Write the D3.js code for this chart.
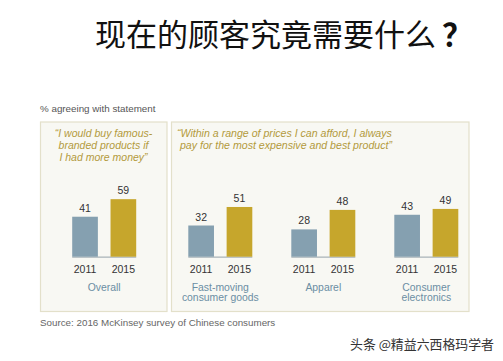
<!DOCTYPE html>
<html><head><meta charset="utf-8">
<script src="https://cdn.jsdelivr.net/npm/d3@7"></script>
<style>
html,body{margin:0;padding:0;background:#fff;}
svg{display:block;}
</style></head>
<body>
<script>
const titleMain = "现在的顾客究竟需要什么";
const titleMark = "？";
const subtitle = "% agreeing with statement";
const source = "Source: 2016 McKinsey survey of Chinese consumers";
const watermark = "头条 @精益六西格玛学者";
const years = ["2011", "2015"];
const leftQuote = ["\u201cI would buy famous-", "branded products if", "I had more money\u201d"];
const rightQuote = ["\u201cWithin a range of prices I can afford, I always", " pay for the most expensive and best product\u201d"];
const leftCategories = [["Overall"]];
const rightCategories = [["Fast-moving", "consumer goods"], ["Apparel"], ["Consumer", "electronics"]];
const values2011 = [41, 32, 28, 43];
const values2015 = [59, 51, 48, 49];

const W = 503, H = 361;
const svg = d3.select("body").append("svg").attr("width", W).attr("height", H);
const font = "'Liberation Sans', Arial, Helvetica, sans-serif";
const cjk = "'Noto Sans CJK SC', sans-serif";

const tt = svg.append("text").attr("x", 95).attr("y", 46)
  .attr("font-family", cjk).attr("font-size", 31).attr("fill", "#111");
tt.append("tspan").text(titleMain);
tt.append("tspan").attr("font-weight", "bold").attr("dx", 6).text(titleMark);

svg.append("text").attr("x", 40).attr("y", 111.5).attr("font-family", font)
  .attr("font-size", 9.8).attr("fill", "#555").text(subtitle);

// panels
const panels = [{x0: 40, x1: 167.5}, {x0: 171, x1: 469.5}];
panels.forEach(p => {
  svg.append("rect").attr("x", p.x0 + 0.5).attr("y", 122).attr("width", p.x1 - p.x0 - 1)
    .attr("height", 189.5).attr("fill", "#f8f8f3").attr("stroke", "#e3e0ca").attr("stroke-width", 1.2);
});

const quoteColor = "#b39a3c";
leftQuote.forEach((t, i) => {
  svg.append("text").attr("x", 103.5).attr("y", 136.5 + i * 12.3).attr("text-anchor", "middle")
    .attr("font-family", font).attr("font-style", "italic").attr("font-size", 10.5)
    .attr("fill", quoteColor).text(t);
});
rightQuote.forEach((t, i) => {
  svg.append("text").attr("x", 177).attr("y", 136.5 + i * 12.3)
    .attr("font-family", font).attr("font-style", "italic").attr("font-size", 10.6)
    .attr("fill", quoteColor).style("white-space", "pre").text(t);
});

// scales
const y = d3.scaleLinear().domain([0, 100]).range([256.7, 256.7 - 97.5]);
const groupCenters = d3.scalePoint().domain(d3.range(rightCategories.length)).range([220.3, 426.3]);
const centers = [104.2].concat(rightCategories.map((d, i) => groupCenters(i)));
const xYear = d3.scaleBand().domain(years).range([-32, 32]).paddingInner(0.33);
const colors = d3.scaleOrdinal().domain(years).range(["#85a0b0", "#c6a62c"]);
const categories = leftCategories.concat(rightCategories);

centers.forEach((cx, gi) => {
  const g = svg.append("g").attr("transform", `translate(${cx},0)`);
  const data = [{year: "2011", v: values2011[gi]}, {year: "2015", v: values2015[gi]}];
  g.append("line").attr("x1", xYear("2011")).attr("x2", xYear("2015") + xYear.bandwidth())
    .attr("y1", y(0) + 0.5).attr("y2", y(0) + 0.5).attr("stroke", "#a9b3b8").attr("stroke-width", 1.2);
  g.selectAll("rect.bar").data(data).join("rect").attr("class", "bar")
    .attr("x", d => xYear(d.year)).attr("width", xYear.bandwidth())
    .attr("y", d => y(d.v)).attr("height", d => y(0) - y(d.v))
    .attr("fill", d => colors(d.year));
  g.selectAll("text.val").data(data).join("text").attr("class", "val")
    .attr("x", d => xYear(d.year) + xYear.bandwidth() / 2).attr("y", d => y(d.v) - 5)
    .attr("text-anchor", "middle").attr("font-family", font).attr("font-size", 10.5)
    .attr("fill", "#333").text(d => d.v);
  g.selectAll("text.yr").data(data).join("text").attr("class", "yr")
    .attr("x", d => xYear(d.year) + xYear.bandwidth() / 2).attr("y", 273)
    .attr("text-anchor", "middle").attr("font-family", font).attr("font-size", 10.5)
    .attr("fill", "#333").text(d => d.year);
  categories[gi].forEach((t, li) => {
    g.append("text").attr("x", 0).attr("y", 290.5 + li * 10.3).attr("text-anchor", "middle")
      .attr("font-family", font).attr("font-size", 10.4).attr("fill", "#6b8ea3").text(t);
  });
});

svg.append("text").attr("x", 40).attr("y", 325.5).attr("font-family", font)
  .attr("font-size", 9.8).attr("fill", "#666").text(source);

svg.append("text").attr("x", 350).attr("y", 349).attr("font-family", cjk)
  .attr("font-size", 12.9).attr("fill", "#333").text(watermark);
</script>
</body></html>
